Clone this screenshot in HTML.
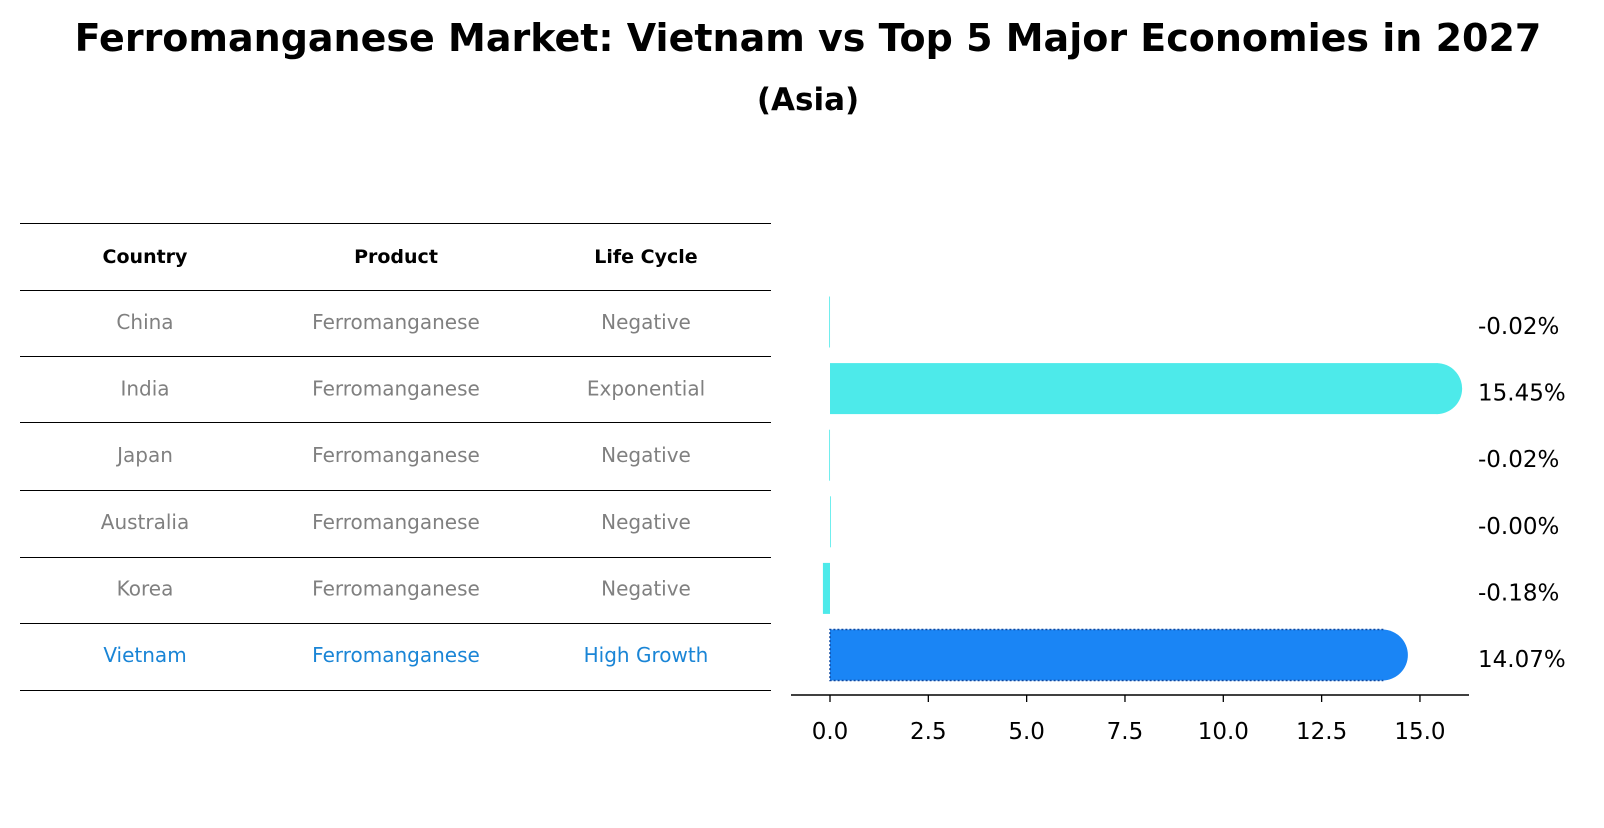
<!DOCTYPE html>
<html><head><meta charset="utf-8"><style>
body{margin:0;background:#fff;font-family:"Liberation Sans","DejaVu Sans",sans-serif}
</style></head><body>
<svg width="1604" height="823" xmlns="http://www.w3.org/2000/svg" style="font-family:'DejaVu Sans','Liberation Sans',sans-serif">
<text x="808" y="51" text-anchor="middle" font-size="38" font-weight="bold">Ferromanganese Market: Vietnam vs Top 5 Major Economies in 2027</text>
<text x="808" y="110" text-anchor="middle" font-size="31" font-weight="bold">(Asia)</text>
<g id="table"></g>
<g id="bars"></g>
</svg>
<script>
const countries=["China","India","Japan","Australia","Korea","Vietnam"];
const products=["Ferromanganese","Ferromanganese","Ferromanganese","Ferromanganese","Ferromanganese","Ferromanganese"];
const lifeCycles=["Negative","Exponential","Negative","Negative","Negative","High Growth"];
const values=[-0.02,15.45,-0.02,-0.00,-0.18,14.07];
const valueLabels=["-0.02%","15.45%","-0.02%","-0.00%","-0.18%","14.07%"];
const tickValues=[0,2.5,5,7.5,10,12.5,15];
const tickLabels=["0.0","2.5","5.0","7.5","10.0","12.5","15.0"];
const NS="http://www.w3.org/2000/svg";
function mk(t,a,p){const e=document.createElementNS(NS,t);for(const k in a)e.setAttribute(k,a[k]);p.appendChild(e);return e;}
const tbl=document.getElementById('table'),bars=document.getElementById('bars');
const lineYs=[223,290,356,422,490,557,623,690];
lineYs.forEach((y,i)=>{const l=mk('line',{x1:20,x2:771,y1:y+0.5,y2:y+0.5,stroke:'#000','stroke-width':1},tbl);

});
const colX=[145,396,646];
["Country","Product","Life Cycle"].forEach((h,i)=>{const t=mk('text',{x:colX[i],y:263,'text-anchor':'middle','font-size':19,'font-weight':'bold'},tbl);t.textContent=h;

});
const rowY=i=>322+i*66.6;
countries.forEach((c,i)=>{const col=i===5?'#1a85d6':'#808080';
[c,products[i],lifeCycles[i]].forEach((v,j)=>{const t=mk('text',{x:colX[j],y:rowY(i)+7,'text-anchor':'middle','font-size':20,fill:col},tbl);t.textContent=v;

});});
const x=v=>830+v*39.33;
const h=51;
values.forEach((v,i)=>{const y=rowY(i);const col=i===5?'#1a85f5':'#4deaea';
const x0=Math.min(x(0),x(v)),w=Math.abs(x(v)-x(0));
const r=mk('rect',{x:x0,y:y-h/2,width:Math.max(w,0.8),height:h,fill:col},bars);


if(v>0.5){const c=mk('path',{d:`M${x(v)-1},${y-h/2} A${h/2},${h/2} 0 0 1 ${x(v)-1},${y+h/2} Z`,fill:col},bars);

}
if(i===5){const o=mk('path',{d:`M${x(v)},${y-h/2} L${x0},${y-h/2} L${x0},${y+h/2} L${x(v)},${y+h/2}`,fill:'none',stroke:'#0d47a1','stroke-width':1.5,'stroke-dasharray':'2,2'},bars);

}
const t=mk('text',{x:1478,y:y+12,'font-size':23},bars);t.textContent=valueLabels[i];

});
const ax=mk('line',{x1:791,x2:1469,y1:695,y2:695,stroke:'#000','stroke-width':1.5},bars);


tickValues.forEach((v,i)=>{const tk=mk('line',{x1:x(v),x2:x(v),y1:695,y2:702,stroke:'#000','stroke-width':1.3},bars);


const t=mk('text',{x:x(v),y:739,'text-anchor':'middle','font-size':23},bars);t.textContent=tickLabels[i];

});
</script>
</body></html>
